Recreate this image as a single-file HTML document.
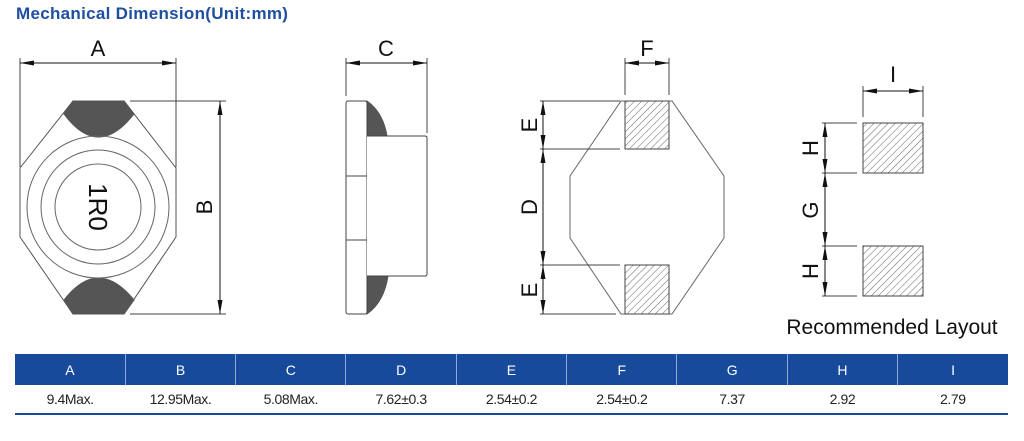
<!DOCTYPE html>
<html><head><meta charset="utf-8"><style>
body{margin:0;background:#fff;width:1024px;height:441px;overflow:hidden;position:relative;font-family:"Liberation Sans","DejaVu Sans",sans-serif}
.t{position:absolute;left:16px;top:4px;font-size:17px;font-weight:bold;color:#1f4fa0;letter-spacing:0.3px}
table{position:absolute;left:15px;top:354px;width:993px;border-collapse:collapse;table-layout:fixed}
th{background:#174a9b;color:#fff;font-weight:normal;font-size:14px;height:31px;border-left:1px solid #8fa9d3;padding:0}
th:first-child{border-left:none}
td{font-size:14px;text-align:center;height:28px;padding:0;color:#222;border-bottom:2px solid #174a9b;letter-spacing:-0.4px}
svg{position:absolute;left:0;top:0}
</style></head><body>
<div class="t">Mechanical Dimension(Unit:mm)</div>
<svg width="1024" height="441" font-family="Liberation Sans, DejaVu Sans, sans-serif">
<defs>
<pattern id="h" width="5" height="5" patternUnits="userSpaceOnUse" patternTransform="rotate(45)">
<line x1="0" y1="0" x2="0" y2="5" stroke="#555" stroke-width="0.9"/></pattern>
<marker id="a" markerWidth="14" markerHeight="6" refX="14" refY="3" orient="auto" markerUnits="userSpaceOnUse"><path d="M0,0.5 L14,3 L0,5.5Z" fill="#111"/></marker>
<marker id="b" markerWidth="14" markerHeight="6" refX="0" refY="3" orient="auto" markerUnits="userSpaceOnUse"><path d="M14,0.5 L0,3 L14,5.5Z" fill="#111"/></marker>
</defs>
<g stroke="#444" stroke-width="1" fill="none">
<line x1="20" y1="58" x2="20" y2="167"/><line x1="176" y1="58" x2="176" y2="167"/>
<line x1="20" y1="63" x2="176" y2="63" stroke="#111" marker-start="url(#b)" marker-end="url(#a)"/>
<path d="M73,101 L124,101 L176,168 L176,237 L124,314 L73,314 L20,237 L20,168Z" fill="#fff" stroke="#555"/>
<path d="M73,101 L124,101 L134,114 Q98,160 64,114Z" fill="#555" stroke="#555"/>
<path d="M73,314 L124,314 L134,300 Q98,256 64,300Z" fill="#555" stroke="#555"/>
<circle cx="98" cy="207" r="71" stroke="#666"/><circle cx="98" cy="207" r="57" stroke="#666"/><circle cx="98" cy="207" r="43" stroke="#666"/>
<line x1="130" y1="101" x2="226" y2="101"/><line x1="130" y1="314" x2="226" y2="314"/>
<line x1="220" y1="101" x2="220" y2="314" stroke="#111" marker-start="url(#b)" marker-end="url(#a)"/>
<line x1="346" y1="58" x2="346" y2="96"/><line x1="427" y1="58" x2="427" y2="133"/>
<line x1="346" y1="63" x2="427" y2="63" stroke="#111" marker-start="url(#b)" marker-end="url(#a)"/>
<path d="M367,101 Q383,112 387,136 L367,136Z" fill="#555" stroke="#555"/>
<path d="M367,314 Q384,302 388,276 L367,276Z" fill="#555" stroke="#555"/>
<rect x="346" y="101" width="21" height="213" rx="2" fill="#fff"/>
<line x1="346" y1="176" x2="367" y2="176"/><line x1="346" y1="240" x2="367" y2="240"/>
<path d="M367,136 L425,136 Q427,136 427,138 L427,274 Q427,276 425,276 L367,276" fill="#fff"/>
<line x1="625" y1="58" x2="625" y2="95"/><line x1="669" y1="58" x2="669" y2="95"/>
<line x1="625" y1="63" x2="669" y2="63" stroke="#111" marker-start="url(#b)" marker-end="url(#a)"/>
<path d="M621,101 L672,101 L724,176 L724,238 L672,314 L621,314 L570,238 L570,176Z" stroke="#666"/>
<rect x="625" y="101" width="44" height="48" fill="url(#h)" stroke="#444"/>
<rect x="625" y="265" width="44" height="49" fill="url(#h)" stroke="#444"/>
<line x1="540" y1="101" x2="620" y2="101"/><line x1="540" y1="149" x2="620" y2="149"/>
<line x1="540" y1="265" x2="620" y2="265"/><line x1="540" y1="314" x2="616" y2="314"/>
<line x1="543" y1="101" x2="543" y2="149" stroke="#111" marker-start="url(#b)" marker-end="url(#a)"/>
<line x1="543" y1="149" x2="543" y2="265" stroke="#111" marker-start="url(#b)" marker-end="url(#a)"/>
<line x1="543" y1="265" x2="543" y2="314" stroke="#111" marker-start="url(#b)" marker-end="url(#a)"/>
<line x1="863" y1="86" x2="863" y2="117"/><line x1="923" y1="86" x2="923" y2="117"/>
<line x1="863" y1="91" x2="923" y2="91" stroke="#111" marker-start="url(#b)" marker-end="url(#a)"/>
<rect x="863" y="123" width="60" height="50" fill="url(#h)" stroke="#444"/>
<rect x="863" y="246" width="60" height="50" fill="url(#h)" stroke="#444"/>
<line x1="822" y1="123" x2="857" y2="123"/><line x1="822" y1="173" x2="857" y2="173"/>
<line x1="822" y1="246" x2="857" y2="246"/><line x1="822" y1="296" x2="857" y2="296"/>
<line x1="825" y1="123" x2="825" y2="173" stroke="#111" marker-start="url(#b)" marker-end="url(#a)"/>
<line x1="825" y1="173" x2="825" y2="246" stroke="#111" marker-start="url(#b)" marker-end="url(#a)"/>
<line x1="825" y1="246" x2="825" y2="296" stroke="#111" marker-start="url(#b)" marker-end="url(#a)"/>
</g>
<g fill="#111" font-size="22" text-anchor="middle">
<text x="98" y="56">A</text>
<text x="386" y="56">C</text>
<text x="647" y="56">F</text>
<text x="893" y="82">I</text>
<text transform="translate(205,207) rotate(-90)" dy="7">B</text>
<text transform="translate(98,207) rotate(90)" dy="9" font-size="26">1R0</text>
<text transform="translate(530,125) rotate(-90)" dy="7">E</text>
<text transform="translate(530,207) rotate(-90)" dy="7">D</text>
<text transform="translate(530,290) rotate(-90)" dy="7">E</text>
<text transform="translate(811,148) rotate(-90)" dy="7">H</text>
<text transform="translate(811,210) rotate(-90)" dy="7">G</text>
<text transform="translate(811,271) rotate(-90)" dy="7">H</text>
<text x="892" y="334" font-size="21">Recommended Layout</text>
</g>
</svg>
<table><tr><th>A</th><th>B</th><th>C</th><th>D</th><th>E</th><th>F</th><th>G</th><th>H</th><th>I</th></tr>
<tr><td>9.4Max.</td><td>12.95Max.</td><td>5.08Max.</td><td>7.62±0.3</td><td>2.54±0.2</td><td>2.54±0.2</td><td>7.37</td><td>2.92</td><td>2.79</td></tr></table>
</body></html>
